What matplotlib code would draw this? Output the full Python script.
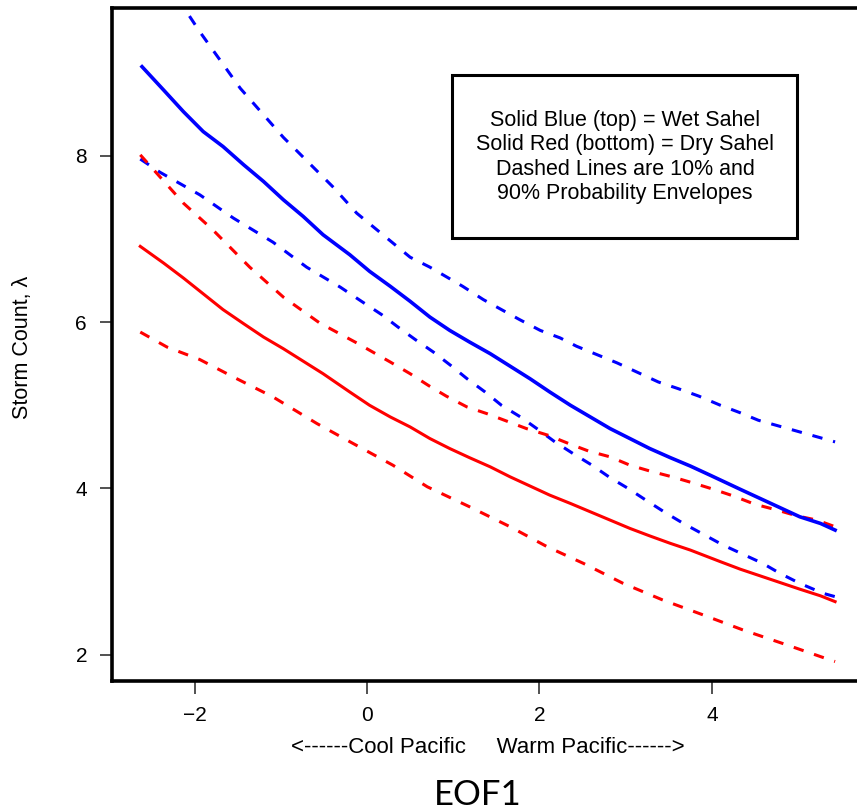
import matplotlib
matplotlib.use('Agg')
import matplotlib.pyplot as plt
from matplotlib.patches import Rectangle

plt.rcParams['font.family'] = ['Liberation Sans', 'DejaVu Sans']

# wet Sahel (blue)
wet_mid_x = [-2.61, -2.36, -2.13, -1.90, -1.67, -1.43, -1.20, -0.97, -0.74, -0.51, -0.20, 0.03, 0.27, 0.50, 0.73,
             0.96, 1.19, 1.43, 1.66, 1.89, 2.12, 2.36, 2.59, 2.82, 3.05, 3.28, 3.52, 3.75, 3.98, 4.33, 4.56, 4.79,
             5.02, 5.26, 5.43]
wet_mid_y = [9.07, 8.79, 8.53, 8.29, 8.11, 7.89, 7.69, 7.47, 7.27, 7.05, 6.81, 6.61, 6.43, 6.25, 6.06,
             5.90, 5.76, 5.62, 5.47, 5.32, 5.16, 5.00, 4.86, 4.72, 4.60, 4.48, 4.37, 4.27, 4.16, 3.99, 3.88, 3.77,
             3.66, 3.58, 3.50]

wet_hi_x = [-2.63, -2.08, -1.94, -1.47, -0.97, -0.39, -0.12, 0.50, 0.73, 1.11, 1.35, 1.56, 1.77, 2.01, 2.24, 2.43,
            2.90, 3.38, 3.61, 3.85, 4.10, 4.33, 4.54, 5.43]
wet_hi_y = [10.45, 9.71, 9.49, 8.81, 8.22, 7.62, 7.31, 6.78, 6.66, 6.43, 6.27, 6.15, 6.03, 5.90, 5.81, 5.71,
            5.51, 5.28, 5.20, 5.11, 5.00, 4.91, 4.82, 4.56]

wet_lo_x = [-2.63, -2.40, -1.94, -1.55, -1.09, -0.70, -0.31, -0.05, 0.17, 0.36, 0.56, 0.77, 0.97, 1.16, 1.37, 1.56,
            1.78, 1.97, 2.18, 2.39, 2.61, 2.82, 3.03, 3.25, 3.46, 3.67, 3.90, 4.13, 4.36, 4.59, 4.79, 5.02, 5.29, 5.43]
wet_lo_y = [7.96, 7.80, 7.53, 7.25, 6.96, 6.66, 6.42, 6.24, 6.09, 5.94, 5.79, 5.64, 5.48, 5.32, 5.16, 5.00,
            4.86, 4.72, 4.56, 4.42, 4.28, 4.13, 4.00, 3.85, 3.71, 3.58, 3.45, 3.32, 3.21, 3.10, 2.98, 2.86, 2.74, 2.70]

# dry Sahel (red)
dry_mid_x = [-2.63, -2.36, -2.13, -1.90, -1.67, -1.43, -1.20, -0.97, -0.74, -0.51, -0.20, 0.03, 0.27, 0.50, 0.73,
             0.96, 1.19, 1.43, 1.66, 1.89, 2.12, 2.36, 2.59, 2.82, 3.05, 3.28, 3.52, 3.75, 4.10, 4.33, 4.56, 4.79,
             5.02, 5.26, 5.43]
dry_mid_y = [6.91, 6.71, 6.53, 6.34, 6.15, 5.98, 5.82, 5.68, 5.53, 5.38, 5.16, 5.00, 4.86, 4.74, 4.60,
             4.48, 4.37, 4.26, 4.14, 4.03, 3.92, 3.82, 3.72, 3.62, 3.52, 3.43, 3.34, 3.26, 3.12, 3.03, 2.95, 2.87,
             2.79, 2.71, 2.64]

dry_hi_x = [-2.63, -2.44, -2.13, -1.79, -1.36, -0.97, -0.55, -0.12, 0.27, 0.50, 0.71, 0.92, 1.16, 1.39, 1.62, 1.85,
            2.10, 2.34, 2.57, 2.82, 3.05, 3.28, 3.54, 3.77, 4.02, 4.25, 4.50, 4.76, 4.99, 5.22, 5.43]
dry_hi_y = [8.01, 7.79, 7.43, 7.11, 6.66, 6.30, 5.99, 5.75, 5.52, 5.38, 5.24, 5.11, 4.98, 4.90, 4.81, 4.72,
            4.64, 4.54, 4.45, 4.38, 4.28, 4.21, 4.14, 4.07, 3.99, 3.91, 3.81, 3.74, 3.67, 3.62, 3.54]

dry_lo_x = [-2.63, -2.32, -1.94, -1.55, -1.09, -0.58, -0.16, 0.30, 0.70, 1.19, 1.66, 2.09, 2.51, 2.97, 3.43, 3.90,
            4.36, 4.87, 5.37, 5.43]
dry_lo_y = [5.88, 5.70, 5.55, 5.34, 5.10, 4.78, 4.54, 4.28, 4.02, 3.78, 3.54, 3.30, 3.10, 2.86, 2.66, 2.48,
            2.30, 2.12, 1.94, 1.92]

xticks = [-2, 0, 2, 4]
yticks = [2, 4, 6, 8]
legend_lines = ['Solid Blue (top) = Wet Sahel', 'Solid Red (bottom) = Dry Sahel',
                'Dashed Lines are 10% and', '90% Probability Envelopes']

fig = plt.figure(figsize=(8.57, 8.11), dpi=100)
ax = fig.add_axes([0.1307, 0.1603, 0.8728, 0.8298])

dash = (3.4, 3.6)
ax.plot(wet_hi_x, wet_hi_y, color='blue', lw=2.2, dashes=dash)
ax.plot(wet_lo_x, wet_lo_y, color='blue', lw=2.2, dashes=dash)
ax.plot(dry_hi_x, dry_hi_y, color='red', lw=2.2, dashes=dash)
ax.plot(dry_lo_x, dry_lo_y, color='red', lw=2.2, dashes=dash)
ax.plot(wet_mid_x, wet_mid_y, color='blue', lw=2.6)
ax.plot(dry_mid_x, dry_mid_y, color='red', lw=2.2)

ax.set_xlim(-2.958, 5.719)
ax.set_ylim(1.686, 9.775)
ax.set_xticks(xticks)
ax.set_yticks(yticks)
ax.tick_params(axis='both', length=9, width=1.1, labelsize=15, color='#222222')
ax.tick_params(axis='x', pad=9)
ax.tick_params(axis='y', pad=9)
for s in ['left', 'bottom', 'top']:
    ax.spines[s].set_linewidth(2.6)
ax.spines['right'].set_visible(False)

fig.text(0.0268, 0.572, 'Storm Count, \u03bb', rotation=90, ha='center', va='center', fontsize=15.5)

fig.text(0.5694, 1 - 753 / 811, '<------Cool Pacific     Warm Pacific------>',
         ha='center', va='baseline', fontsize=16)

fig.text(0.557, 1 - 805 / 811, 'EOF1', ha='center', va='baseline', fontsize=25, family='Lato')

fig.add_artist(Rectangle((0.5274, 0.7065), 0.4026, 0.201, transform=fig.transFigure,
                         fill=False, lw=2.2, edgecolor='black'))
fig.text(0.7293, 0.8064, '\n'.join(legend_lines), ha='center', va='center',
         fontsize=15.5, linespacing=1.2)

plt.savefig('out.png', dpi=100)
